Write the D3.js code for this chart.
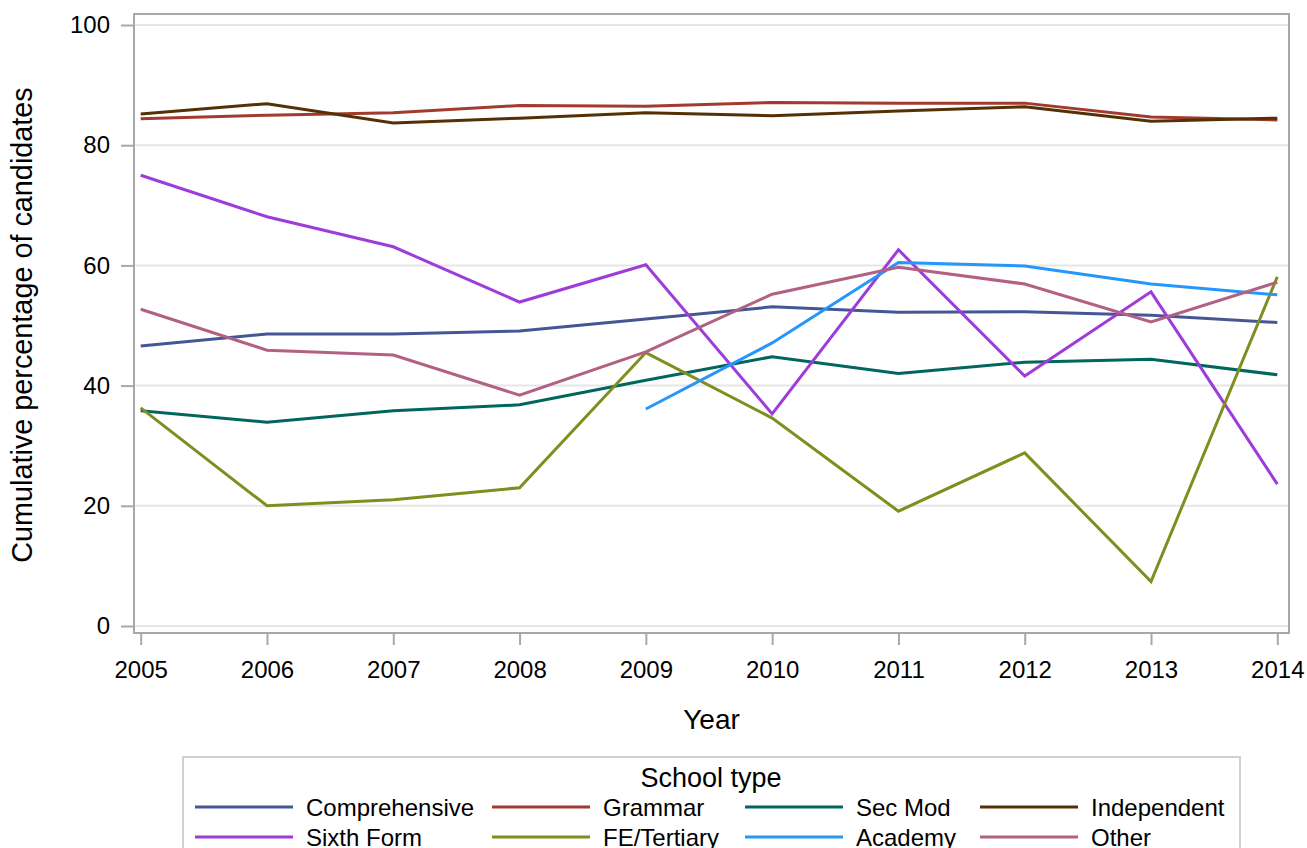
<!DOCTYPE html>
<html>
<head>
<meta charset="utf-8">
<script src="https://cdnjs.cloudflare.com/ajax/libs/d3/7.8.5/d3.min.js"></script>
<style>
  body { margin: 0; background: #fff; }
  svg { display: block; font-family: "Liberation Sans", Arial, sans-serif; }
</style>
</head>
<body>
<svg id="chart" width="1307" height="848"></svg>
<script>
// data
var years = [2005, 2006, 2007, 2008, 2009, 2010, 2011, 2012, 2013, 2014];
var seriesNames = ["Comprehensive", "Grammar", "Sec Mod", "Independent",
                   "Sixth Form", "FE/Tertiary", "Academy", "Other"];
var comprehensive = [46.6, 48.6, 48.6, 49.1, 51.1, 53.1, 52.2, 52.3, 51.7, 50.5];
var grammar       = [84.4, 85.0, 85.4, 86.6, 86.5, 87.1, 87.0, 87.0, 84.7, 84.2];
var secMod        = [35.8, 33.9, 35.8, 36.8, 40.9, 44.8, 42.0, 43.9, 44.4, 41.8];
var independent   = [85.2, 86.9, 83.7, 84.5, 85.4, 84.9, 85.7, 86.4, 84.0, 84.5];
var sixthForm     = [75.0, 68.1, 63.1, 53.9, 60.1, 35.3, 62.6, 41.6, 55.6, 23.6];
var feTertiary    = [36.3, 20.0, 21.0, 23.0, 45.5, 34.6, 19.1, 28.8, 7.4, 58.1];
var academy       = [null, null, null, null, 36.1, 47.1, 60.5, 59.9, 56.9, 55.1];
var other         = [52.7, 45.9, 45.1, 38.4, 45.6, 55.2, 59.7, 56.9, 50.6, 57.2];
var yTicks = [0, 20, 40, 60, 80, 100];
var colors = ["#445694", "#A23A2E", "#01665E", "#543005",
              "#9D3CDB", "#7F8E1F", "#2597FA", "#B26084"];

var seriesValues = [comprehensive, grammar, secMod, independent,
                    sixthForm, feTertiary, academy, other];

var svg = d3.select("#chart");

// plot frame
var frame = { l: 134, t: 14, r: 1289, b: 633 };

var xScale = d3.scaleLinear().domain([2005, 2014]).range([140.7, 1277.3]);
var yScale = d3.scaleLinear().domain([0, 100]).range([626, 25]);

// gridlines
svg.append("g")
    .selectAll("line")
    .data(yTicks)
    .enter()
    .append("line")
    .attr("x1", frame.l)
    .attr("x2", frame.r)
    .attr("y1", d => yScale(d))
    .attr("y2", d => yScale(d))
    .attr("stroke", "#e6e6e6")
    .attr("stroke-width", 2);

// series lines
var line = d3.line()
    .defined(d => d != null)
    .x((d, i) => xScale(years[i]))
    .y(d => yScale(d));

svg.append("g")
    .selectAll("path")
    .data(seriesValues)
    .enter()
    .append("path")
    .attr("d", d => line(d))
    .attr("fill", "none")
    .attr("stroke", (d, i) => colors[i])
    .attr("stroke-width", 3)
    .attr("stroke-linejoin", "miter");

// frame box
svg.append("rect")
    .attr("x", frame.l)
    .attr("y", frame.t)
    .attr("width", frame.r - frame.l)
    .attr("height", frame.b - frame.t)
    .attr("fill", "none")
    .attr("stroke", "#a8a8a8")
    .attr("stroke-width", 2);

// axes
var xAxis = d3.axisBottom(xScale).tickValues(years).tickFormat(d3.format("d"))
    .tickSizeInner(12).tickSizeOuter(0).tickPadding(16);
var yAxis = d3.axisLeft(yScale).tickValues(yTicks)
    .tickSizeInner(13).tickSizeOuter(0).tickPadding(11);

var gx = svg.append("g")
    .attr("transform", "translate(0," + frame.b + ")")
    .call(xAxis);
var gy = svg.append("g")
    .attr("transform", "translate(" + frame.l + ",0)")
    .call(yAxis);

[gx, gy].forEach(function (g) {
    g.select(".domain").remove();
    g.selectAll(".tick line").attr("stroke", "#a8a8a8").attr("stroke-width", 2);
    g.selectAll(".tick text")
        .attr("fill", "#000")
        .style("font-size", "24px")
        .style("font-family", "Liberation Sans, Arial, sans-serif");
});

// axis titles
svg.append("text")
    .attr("x", (frame.l + frame.r) / 2)
    .attr("y", 729)
    .attr("text-anchor", "middle")
    .style("font-size", "28px")
    .text("Year");

svg.append("text")
    .attr("transform", "translate(32,325) rotate(-90)")
    .attr("text-anchor", "middle")
    .style("font-size", "28.8px")
    .text("Cumulative percentage of candidates");

// legend
var legend = svg.append("g");
legend.append("rect")
    .attr("x", 183)
    .attr("y", 757)
    .attr("width", 1057)
    .attr("height", 120)
    .attr("fill", "none")
    .attr("stroke", "#d0d0d0")
    .attr("stroke-width", 2);

legend.append("text")
    .attr("x", 711)
    .attr("y", 787)
    .attr("text-anchor", "middle")
    .style("font-size", "27px")
    .text("School type");

var colX = [195, 492, 745, 980];
var rowY = [807, 837];

var items = legend.selectAll(".item")
    .data(seriesNames)
    .enter()
    .append("g")
    .attr("class", "item")
    .attr("transform", (d, i) => "translate(" + colX[i % 4] + "," + rowY[Math.floor(i / 4)] + ")");

items.append("line")
    .attr("x1", 0)
    .attr("x2", 98)
    .attr("y1", 0)
    .attr("y2", 0)
    .attr("stroke", (d, i) => colors[i])
    .attr("stroke-width", 3);

items.append("text")
    .attr("x", 111)
    .attr("y", 9)
    .style("font-size", "24px")
    .text(d => d);
</script>
</body>
</html>
